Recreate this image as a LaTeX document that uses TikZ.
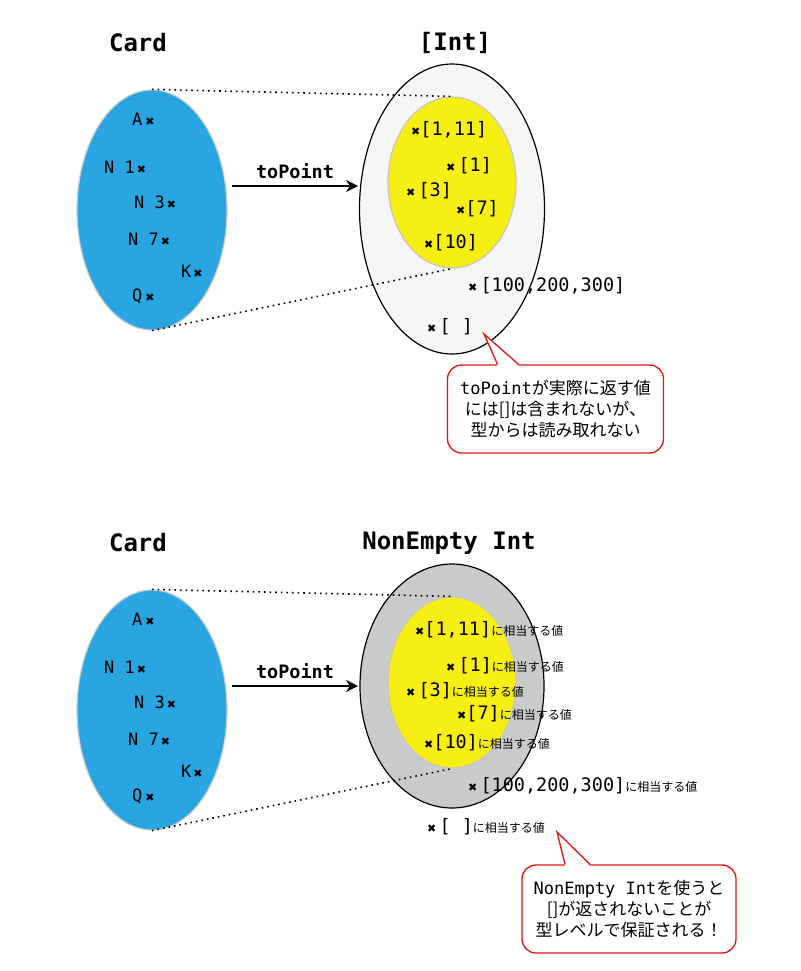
\documentclass[tikz,border=0pt]{standalone}
\usepackage{fontspec}
\setmonofont{DejaVu Sans Mono}
\newfontfamily\jpfont{Noto Sans CJK JP}
\newfontfamily\symfont{DejaVu Sans}
\usetikzlibrary{shapes.geometric,arrows.meta}
\definecolor{cardblue}{HTML}{29A6E1}
\definecolor{valyellow}{HTML}{F7EE14}
\definecolor{listgray}{HTML}{F6F6F6}
\definecolor{nonempty}{HTML}{C9CACA}
\definecolor{notered}{HTML}{E3140F}
\pgfdeclareradialshading{cardglow}{\pgfpoint{0bp}{0bp}}{color(0bp)=(cardblue); color(44bp)=(cardblue); color(48bp)=(cardblue!60!white); color(50bp)=(cardblue!35!white)}
\pgfdeclareradialshading{valglow}{\pgfpoint{0bp}{0bp}}{color(0bp)=(valyellow); color(44bp)=(valyellow); color(48bp)=(valyellow!55!white); color(50bp)=(valyellow!25!white)}
\newcommand{\xmark}{{\symfont\fontsize{11}{11}\selectfont ✖}}
\newcommand{\sfx}{{\jpfont\fontsize{12}{12}\selectfont に相当する値}}

\begin{document}
\begin{tikzpicture}[x=1pt, y=-1pt,
    title/.style={font=\ttfamily\bfseries\fontsize{24}{28}\selectfont},
    cardset/.style={ellipse, inner sep=0, minimum width=150pt, minimum height=240pt, shade, shading=cardglow, draw=gray!40, line width=1.2pt},
    valset/.style={ellipse, inner sep=0, minimum width=128pt, minimum height=171pt, shade, shading=valglow, draw=gray!45, line width=1.2pt},
    outerset/.style={ellipse, inner sep=0, draw=black, line width=1.2pt},
    cardlbl/.style={anchor=west, inner sep=0, font=\ttfamily\fontsize{17}{20}\selectfont},
    itemlbl/.style={anchor=west, inner sep=0, font=\ttfamily\fontsize{18.5}{22}\selectfont},
    maparrow/.style={line width=2.5pt, -{Stealth[length=12pt, width=12pt]}},
    mapline/.style={line width=1.6pt, dash pattern=on 1.6pt off 4pt},
    note/.style={rectangle, rounded corners=14pt, draw=notered, line width=1.3pt, fill=white, align=center, font=\jpfont\fontsize{17}{21}\selectfont}]
  \useasboundingbox (0,0) rectangle (800,971);

  % top: Card -> [Int]
  \node at (138,43) (cardTitleT) [title] {Card};
  \node at (455,43) (intTitleT) [title] {[Int]};

  \node at (152,210) (cardT) [cardset] {};
  \node at (452,209) (intT) [outerset, fill=listgray, minimum width=185pt, minimum height=290pt] {};
  \node at (452,182.5) (valT) [valset] {};

  \node at (132,119) (aT) [cardlbl] {A\hspace{3pt}\xmark};
  \node at (104,167) (n1T) [cardlbl] {N 1\hspace{2pt}\xmark};
  \node at (134,202) (n3T) [cardlbl] {N 3\hspace{2pt}\xmark};
  \node at (128,239) (n7T) [cardlbl] {N 7\hspace{2pt}\xmark};
  \node at (181,271) (kT) [cardlbl] {K\hspace{2pt}\xmark};
  \node at (132,296) (qT) [cardlbl] {Q\hspace{3pt}\xmark};

  \node at (411,130) (i111T) [itemlbl] {\xmark[1,11]};
  \node at (446,166) (i1T) [itemlbl] {\xmark\,[1]};
  \node at (406,191) (i3T) [itemlbl] {\xmark\,[3]};
  \node at (456,209) (i7T) [itemlbl] {\xmark[7]};
  \node at (424,243) (i10T) [itemlbl] {\xmark[10]};
  \node at (468,286) (ibigT) [itemlbl] {\xmark\,[100,200,300]};
  \node at (427,327) (iemptyT) [itemlbl] {\xmark\,[ ]};

  \draw[mapline] (cardT.north) -- (valT.north);
  \draw[mapline] (cardT.south) -- (valT.south);

  \coordinate (fromT) at (232,186);
  \coordinate (toT) at (358,186);
  \draw[maparrow] (fromT) -- (toT) node[midway, above=3pt, font=\ttfamily\bfseries\fontsize{18.5}{22}\selectfont] (mapT) {toPoint};

  \node at (555.5,409) (noteT) [note, minimum width=216pt, minimum height=88pt] {{\ttfamily toPoint}が実際に返す値\\には[]は含まれないが、\\型からは読み取れない};
  \coordinate (tipT) at (484,334);
  \fill[white] ([xshift=-58pt, yshift=-1.5pt]noteT.north) -- (tipT) -- ([xshift=-37pt, yshift=-1.5pt]noteT.north) -- cycle;
  \draw[notered, line width=1.3pt] ([xshift=-58pt]noteT.north) -- (tipT) -- ([xshift=-37pt]noteT.north);

  % bottom: Card -> NonEmpty Int
  \node at (138,543) (cardTitleB) [title] {Card};
  \node at (449,543) (intTitleB) [title] {NonEmpty Int};

  \node at (152,710) (cardB) [cardset] {};
  \node at (452,686) (intB) [outerset, fill=nonempty, minimum width=184pt, minimum height=244pt] {};
  \node at (452,682.5) (valB) [valset] {};

  \node at (132,619) (aB) [cardlbl] {A\hspace{3pt}\xmark};
  \node at (104,667) (n1B) [cardlbl] {N 1\hspace{2pt}\xmark};
  \node at (134,702) (n3B) [cardlbl] {N 3\hspace{2pt}\xmark};
  \node at (128,739) (n7B) [cardlbl] {N 7\hspace{2pt}\xmark};
  \node at (181,771) (kB) [cardlbl] {K\hspace{2pt}\xmark};
  \node at (132,796) (qB) [cardlbl] {Q\hspace{3pt}\xmark};

  \node at (415,630) (i111B) [itemlbl] {\xmark[1,11]\sfx};
  \node at (446,666) (i1B) [itemlbl] {\xmark\,[1]\sfx};
  \node at (406,691) (i3B) [itemlbl] {\xmark\,[3]\sfx};
  \node at (457,714) (i7B) [itemlbl] {\xmark[7]\sfx};
  \node at (424,743) (i10B) [itemlbl] {\xmark[10]\sfx};
  \node at (468,786) (ibigB) [itemlbl] {\xmark\,[100,200,300]\sfx};
  \node at (427,827) (iemptyB) [itemlbl] {\xmark\,[ ]\sfx};

  \draw[mapline] (cardB.north) -- (valB.north);
  \draw[mapline] (cardB.south) -- (valB.south);

  \coordinate (fromB) at (232,686);
  \coordinate (toB) at (358,686);
  \draw[maparrow] (fromB) -- (toB) node[midway, above=3pt, font=\ttfamily\bfseries\fontsize{18.5}{22}\selectfont] (mapB) {toPoint};

  \node at (629,909) (noteB) [note, minimum width=214pt, minimum height=88pt] {{\ttfamily NonEmpty Int}を使うと\\{}[]が返されないことが\\型レベルで保証される！};
  \coordinate (tipB) at (557,832);
  \fill[white] ([xshift=-64pt, yshift=-1.5pt]noteB.north) -- (tipB) -- ([xshift=-39pt, yshift=-1.5pt]noteB.north) -- cycle;
  \draw[notered, line width=1.3pt] ([xshift=-64pt]noteB.north) -- (tipB) -- ([xshift=-39pt]noteB.north);
\end{tikzpicture}
\end{document}
